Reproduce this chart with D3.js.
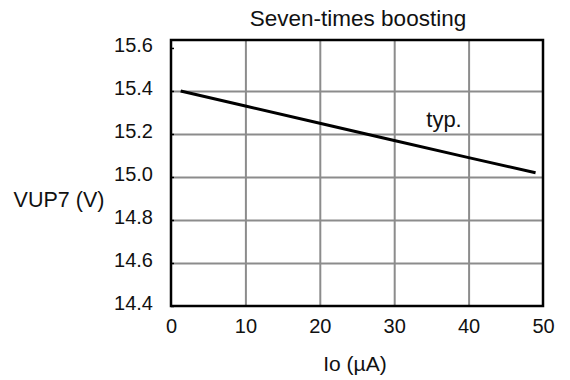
<!DOCTYPE html>
<html>
<head>
<meta charset="utf-8">
<script src="https://cdn.jsdelivr.net/npm/d3@7"></script>
<style>
  html, body { margin: 0; padding: 0; background: #fff; }
  svg { display: block; font-family: "Liberation Sans", Arial, sans-serif; }
</style>
</head>
<body>
<svg id="chart" width="570" height="380"></svg>
<script>
// Output current (µA) vs. boosted voltage VUP7 (V), typical curve
const currentUA = [1.3, 10, 20, 30, 40, 49];
const vup7 = [15.40, 15.33, 15.25, 15.17, 15.09, 15.02];
const xTicks = [0, 10, 20, 30, 40, 50];
const yTicks = [14.4, 14.6, 14.8, 15.0, 15.2, 15.4, 15.6];

const svg = d3.select("#chart");
const plotLeft = 171, plotRight = 543, plotTop = 40, plotBottom = 306;
const FONT = "Liberation Sans, Arial, sans-serif";

const x = d3.scaleLinear().domain([0, 50]).range([plotLeft, plotRight]);
const y = d3.scaleLinear().domain([14.4, 15.637]).range([plotBottom, plotTop]);

// vertical grid
svg.append("g")
  .attr("transform", `translate(0,${plotBottom})`)
  .call(d3.axisBottom(x).tickValues(xTicks.slice(1, -1)).tickSize(-(plotBottom - plotTop)).tickFormat(""))
  .call(g => g.select(".domain").remove())
  .call(g => g.selectAll("line").attr("stroke", "#8c8c8c").attr("stroke-width", 2));

// horizontal grid
svg.append("g")
  .attr("transform", `translate(${plotLeft},0)`)
  .call(d3.axisLeft(y).tickValues(yTicks.slice(1, -1)).tickSize(-(plotRight - plotLeft)).tickFormat(""))
  .call(g => g.select(".domain").remove())
  .call(g => g.selectAll("line").attr("stroke", "#8c8c8c").attr("stroke-width", 2));

// x tick labels
svg.append("g")
  .attr("transform", `translate(0,${plotBottom})`)
  .call(d3.axisBottom(x).tickValues(xTicks).tickSize(0).tickPadding(13).tickFormat(d3.format("d")))
  .call(g => g.select(".domain").remove())
  .call(g => g.selectAll("text").attr("font-size", 20).attr("fill", "#111").attr("font-family", FONT));

// y tick labels
svg.append("g")
  .attr("transform", `translate(${plotLeft},0)`)
  .call(d3.axisLeft(y).tickValues(yTicks).tickSize(3).tickPadding(15).tickFormat(d3.format(".1f")))
  .call(g => g.select(".domain").remove())
  .call(g => g.selectAll("line").attr("stroke", "#000").attr("stroke-width", 1.5).attr("transform", "translate(3,0)"))
  .call(g => g.selectAll("text").attr("font-size", 20).attr("dy", "0.18em").attr("fill", "#111").attr("font-family", FONT));

// plot frame
svg.append("rect")
  .attr("x", plotLeft).attr("y", plotTop)
  .attr("width", plotRight - plotLeft).attr("height", plotBottom - plotTop)
  .attr("fill", "none").attr("stroke", "#000").attr("stroke-width", 2.5);

// data curve
const line = d3.line().x((d, i) => x(currentUA[i])).y(d => y(d));
svg.append("path")
  .datum(vup7)
  .attr("d", line)
  .attr("fill", "none")
  .attr("stroke", "#000")
  .attr("stroke-width", 3);

// labels
svg.append("text").attr("x", 358).attr("y", 26).attr("text-anchor", "middle")
  .attr("font-size", 22.5).attr("fill", "#111").text("Seven-times boosting");
svg.append("text").attr("x", 444).attr("y", 127).attr("text-anchor", "middle")
  .attr("font-size", 22).attr("fill", "#111").text("typ.");
svg.append("text").attr("x", 59).attr("y", 207).attr("text-anchor", "middle")
  .attr("font-size", 21.5).attr("fill", "#111").text("VUP7 (V)");
svg.append("text").attr("x", 355).attr("y", 371).attr("text-anchor", "middle")
  .attr("font-size", 21).attr("fill", "#111").text("Io (µA)");
</script>
</body>
</html>
